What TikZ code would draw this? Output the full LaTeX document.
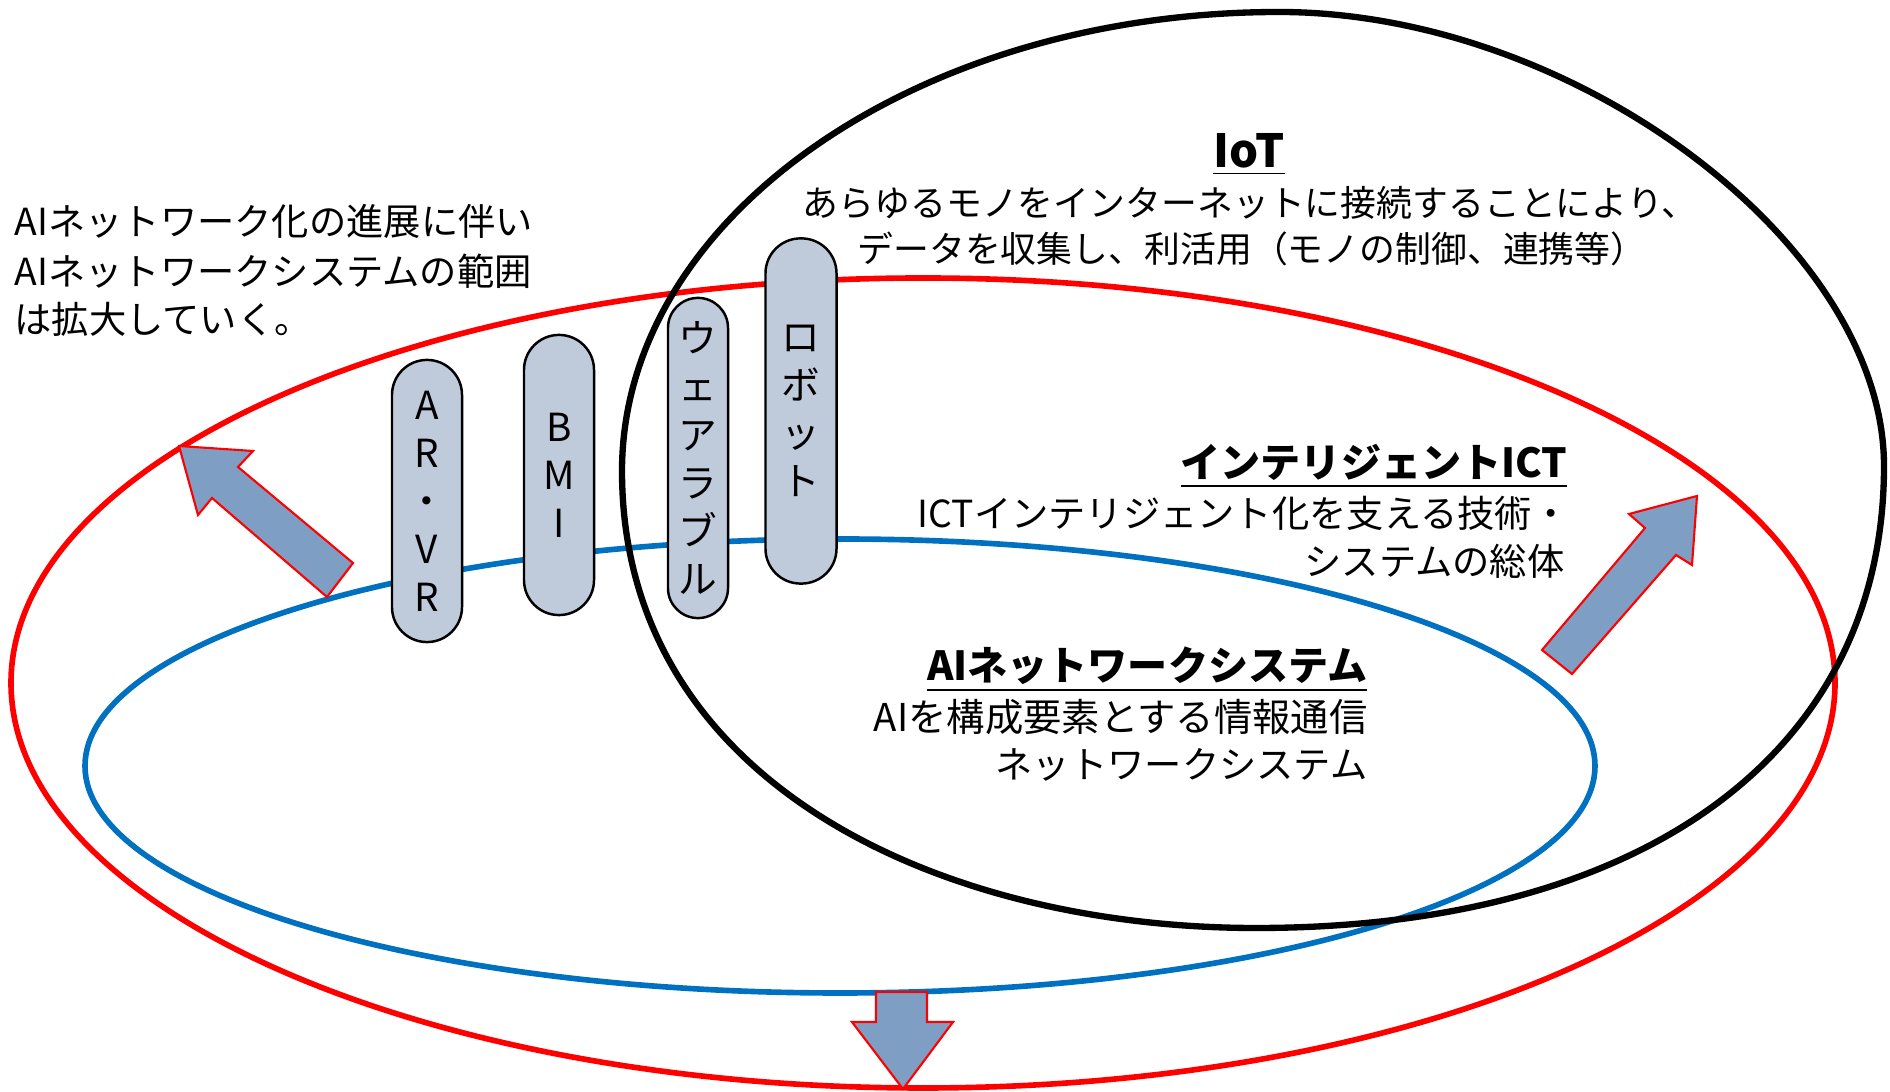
\documentclass[tikz,border=0pt]{standalone}
\usepackage{fontspec}
\setmainfont{Noto Sans CJK JP}
\definecolor{pillfill}{RGB}{191,203,218}
\definecolor{arrowfill}{RGB}{126,158,196}
\definecolor{ringblue}{RGB}{0,112,192}
\definecolor{ringred}{RGB}{255,0,0}
\tikzset{
  ring/.style={line width=1.6pt},
  pill/.style={draw=black, line width=0.7pt, fill=pillfill, rounded corners=0.35cm,
    minimum width=0.7cm, inner sep=0pt, align=center,
    font=\fontsize{11}{13.66}\selectfont},
  bodytext/.style={inner sep=0pt, font=\fontsize{10.6}{13}\selectfont},
  iottext/.style={inner sep=0pt, font=\fontsize{10.2}{13}\selectfont},
  titletext/.style={inner sep=0pt, font=\bfseries\fontsize{11.4}{14}\selectfont},
  blockarrow/.style={fill=arrowfill, draw=ringred, line width=0.6pt, line join=miter},
}
\begin{document}
\begin{tikzpicture}[x=0.01cm, y=-0.01cm]
\useasboundingbox (0,0) rectangle (1890,1092);
% rings
\draw[ring, ringred] (923,683) ellipse [x radius=912, y radius=405];
\draw[ring, ringblue] (840,766) ellipse [x radius=755, y radius=227];
\draw[ring, black, line width=1.8pt] (1279,12)
  .. controls (1575,12) and (1884,245) .. (1884,466)
  .. controls (1884,752) and (1645,928) .. (1256,928)
  .. controls (939,928) and (622,782) .. (622,471)
  .. controls (622,218) and (916,12) .. cycle;
% pills
\node[pill, minimum height=2.82cm] (arvr) at (427,501) {A\\R\\・\\V\\R};
\node[pill, minimum height=2.80cm] (bmi) at (559,475) {B\\M\\I};
\node[pill, minimum height=3.20cm, minimum width=0.6cm, rounded corners=0.3cm] (wear) at (698,458) {ウ\\ェ\\ア\\ラ\\ブ\\ル};
\node[pill, minimum height=3.45cm, minimum width=0.71cm] (robot) at (801,411) {ロ\\ボ\\ッ\\ト};
% block arrows
\draw[blockarrow] (179,446) -- (253,451) -- (238,467) -- (353,563) -- (327,597) -- (212,498) -- (198,515) -- cycle;
\draw[blockarrow] (1697,496) -- (1692,565) -- (1676,555) -- (1572,674) -- (1542,650) -- (1645,528) -- (1629,514) -- cycle;
\draw[blockarrow] (876,992) -- (927,992) -- (927,1022) -- (953,1022) -- (903,1089) -- (852,1022) -- (876,1022) -- cycle;
% texts
\node[bodytext, anchor=base west] (tl1) at (14,236) {AIネットワーク化の進展に伴い};
\node[bodytext, anchor=base west] (tl2) at (14,286) {AIネットワークシステムの範囲};
\node[bodytext, anchor=base west] (tl3) at (14,334) {は拡大していく。};
\node[titletext, anchor=base, font=\bfseries\fontsize{13}{15}\selectfont] (iot) at (1249,168) {\underline{IoT}};
\node[iottext, anchor=base] (iot1) at (1250,217) {あらゆるモノをインターネットに接続することにより、};
\node[iottext, anchor=base] (iot2) at (1252,263) {データを収集し、利活用（モノの制御、連携等）};
\node[titletext, anchor=base east] (ict) at (1568,478) {\underline{インテリジェントICT}};
\node[bodytext, anchor=base east] (ict1) at (1570,528) {ICTインテリジェント化を支える技術・};
\node[bodytext, anchor=base east] (ict2) at (1565,576) {システムの総体};
\node[titletext, anchor=base east] (ai) at (1368,681) {\underline{AIネットワークシステム}};
\node[bodytext, anchor=base east, font=\fontsize{10.9}{13}\selectfont] (ai1) at (1368,732) {AIを構成要素とする情報通信};
\node[bodytext, anchor=base east] (ai2) at (1368,779) {ネットワークシステム};
\end{tikzpicture}
\end{document}
